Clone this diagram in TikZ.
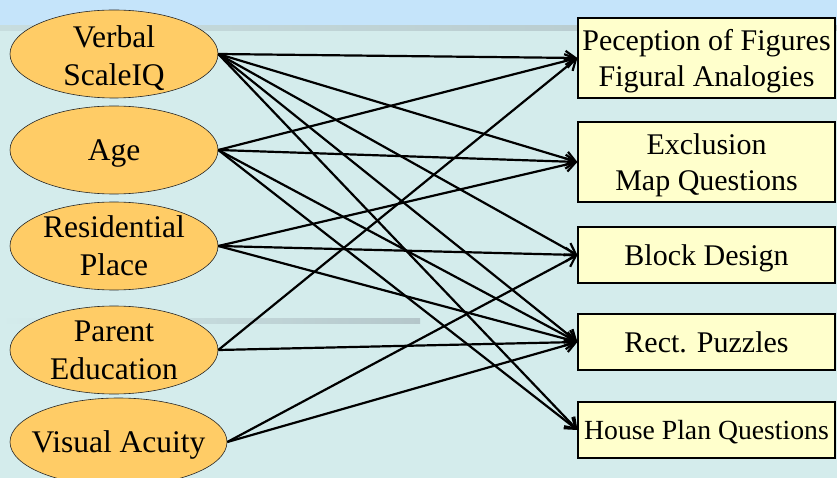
\documentclass[tikz,border=0pt]{standalone}
\usepackage{fontspec}
\setmainfont{Liberation Serif}
\usetikzlibrary{shapes.geometric,arrows.meta}
\definecolor{topbg}{HTML}{C5E4FA}
\definecolor{mainbg}{HTML}{D4ECEC}
\definecolor{barc}{HTML}{B4C6CA}
\definecolor{ellfill}{HTML}{FFCC66}
\definecolor{boxfill}{HTML}{FFFFCC}
\tikzset{
  ell/.style={ellipse, draw=black!85, line width=0.6pt, fill=ellfill,
    minimum width=208pt, minimum height=88pt, inner sep=0pt},
  elltext/.style={font=\fontsize{31.5}{38}\selectfont, align=center, inner sep=0pt, text depth=0pt},
  tbox/.style={draw, line width=1.2pt, fill=boxfill, minimum width=257pt,
    inner sep=0pt, font=\fontsize{30}{35.5}\selectfont, align=center, text depth=0pt},
  link/.style={line width=2.2pt, -{Straight Barb[length=10pt,width=14pt,line width=2.2pt]}},
}
\begin{document}
\begin{tikzpicture}[x=1pt,y=-1pt]
\useasboundingbox (0,0) rectangle (837,478);
\clip (0,0) rectangle (837,478);
% background
\fill[mainbg] (0,0) rectangle (837,478);
\fill[topbg] (0,0) rectangle (837,26);
\shade[left color=mainbg!60!barc, right color=barc] (0,26) rectangle (837,31);
\shade[left color=mainbg, right color=barc] (0,318) rectangle (420,323);
% left ellipses
\node[ell] (V) at (114,54) {};
\node[elltext] (Vt) at ([yshift=-1.5pt]V.center) {Verbal\\ScaleIQ};
\node[ell] (A) at (114,150) {};
\node[elltext] (At) at (A.center) {Age};
\node[ell] (R) at (114,246) {};
\node[elltext] (Rt) at (R.center) {Residential\\Place};
\node[ell] (P) at (114,350) {};
\node[elltext] (Pt) at (P.center) {Parent\\Education};
\node[ell, minimum width=217pt] (VA) at (118.5,442) {};
\node[elltext] (VAt) at (VA.center) {Visual Acuity};
% right boxes
\node[tbox, minimum height=80pt] (B1) at (706.5,58) {Peception of Figures\\Figural Analogies};
\node[tbox, minimum height=80pt] (B2) at (706.5,162) {Exclusion\\Map Questions};
\node[tbox, minimum height=56pt] (B3) at (706.5,255) {Block Design};
\node[tbox, minimum height=56pt] (B4) at (706.5,342) {Rect. Puzzles};
\node[tbox, minimum height=56pt, font=\fontsize{27.7}{32}\selectfont] (B5) at (706.5,430) {House Plan Questions};
% links
\foreach \t in {B1,B2,B3,B4,B5} \draw[link] (V.east) -- (\t.west);
\foreach \t in {B1,B2,B4,B5} \draw[link] (A.east) -- (\t.west);
\foreach \t in {B2,B3,B4} \draw[link] (R.east) -- (\t.west);
\foreach \t in {B1,B4} \draw[link] (P.east) -- (\t.west);
\foreach \t in {B3,B4} \draw[link] (VA.east) -- (\t.west);
\end{tikzpicture}
\end{document}
